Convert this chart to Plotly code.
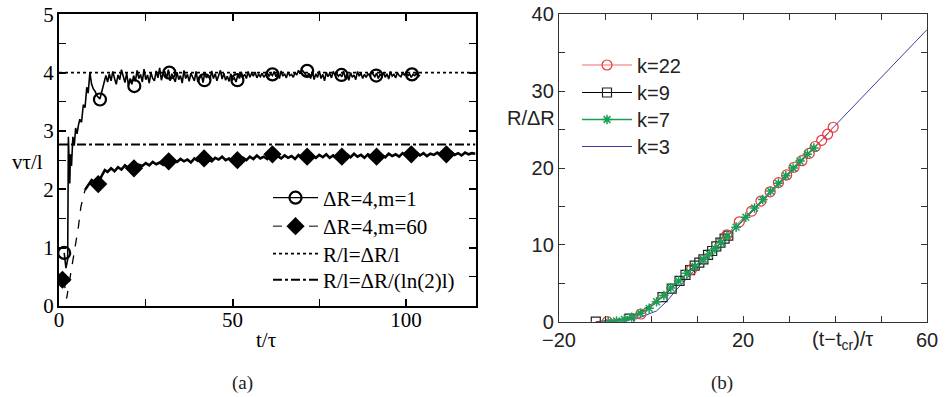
import numpy as np
import plotly.graph_objects as go

# ---------------- Panel (a) data ----------------
# m=1 curve: irregular early part, then half-unit samples
t1_early = [1.5, 2.0, 2.5, 2.7, 2.9, 3.1, 3.3, 3.6, 4.0, 4.4, 4.8, 5.2, 5.6, 6.0, 6.5, 7.0,
            7.5, 8.0, 8.4, 8.9, 9.4, 9.9, 10.4, 11.0, 11.8, 12.4, 13.0]
v1_early = [0.91, 0.65, 0.8, 2.9, 2.5, 2.1, 2.6, 2.4, 2.9, 2.75, 3.05, 2.95, 3.1, 3.2, 3.15, 3.45,
            3.4, 3.75, 3.65, 4.0, 3.8, 3.72, 3.68, 3.6, 3.55, 3.7, 3.82]
t1_late = list(np.round(np.arange(13.5, 104.01, 0.5), 1))
v1_late = [3.95, 3.84, 3.98, 3.86, 4.02, 3.9, 3.8, 3.96, 3.88, 4.05,
           3.92, 3.83, 3.99, 3.78, 3.9, 3.8, 3.95, 3.85, 4.04, 3.9,
           3.97, 3.84, 4.06, 3.88, 3.96, 3.82, 4.0, 3.9, 3.86, 4.03,
           3.91, 4.08, 3.87, 3.99, 4.02, 3.9, 4.05, 3.86, 3.98, 3.92,
           3.84, 4.01, 3.88, 3.95, 3.82, 4.04, 3.9, 3.97, 3.85, 3.99,
           3.93, 3.86, 4.02, 3.84, 3.9, 3.97, 3.83, 4.0, 3.91, 3.96,
           3.88, 4.03, 3.9, 3.98, 3.86, 3.95, 4.04, 3.89, 3.99, 3.87,
           3.94, 3.85, 3.98, 3.88, 3.91, 3.84, 3.96, 3.9, 4.01, 3.93,
           3.97, 3.9, 4.02, 3.92, 3.99, 3.94, 4.01, 3.91, 3.97, 3.93,
           3.99, 3.92, 3.96, 4.0, 3.94, 3.98, 3.95, 4.02, 3.93, 3.99,
           3.9, 4.03, 3.94, 3.98, 3.91, 4.01, 3.95, 3.97, 3.92, 4.0,
           3.96, 4.04, 3.98, 4.05, 4.01, 3.97, 3.93, 3.99, 3.9, 4.02,
           3.88, 3.98, 3.92, 4.03, 3.9, 3.97, 3.86, 4.01, 3.93, 3.99,
           3.91, 4.02, 3.96, 3.99, 3.94, 3.97, 3.93, 4.03, 3.9, 3.98,
           3.87, 4.0, 3.92, 3.96, 3.88, 4.02, 3.94, 3.99, 3.9, 3.97,
           3.92, 3.98, 3.95, 4.01, 3.96, 3.93, 3.99, 3.9, 3.97, 3.94,
           4.0, 3.92, 3.98, 3.89, 4.02, 3.94, 3.97, 3.91, 4.0, 3.95,
           3.93, 3.99, 3.96, 4.01, 3.94, 3.98, 3.92, 3.97, 3.95, 3.99,
           3.93, 3.96]
t1_marks = [1.5, 11.8, 21.7, 31.8, 41.9, 51.4, 61.5, 71.5, 81.4, 91.4, 101.7]
v1_marks = [0.91, 3.54, 3.77, 4.0, 3.87, 3.87, 3.97, 4.03, 3.96, 3.95, 3.97]

# m=60 curve
t2_early = [1.0, 1.5, 2.2, 2.7, 3.2, 3.8, 4.4, 5.0, 5.6, 6.3, 6.9, 7.5]
v2_early = [0.45, 0.4, 0.13, 0.3, 0.5, 0.7, 0.9, 1.12, 1.36, 1.7, 1.85, 1.99]
t2_mid = [7.5, 8.4, 9.4, 10.3, 11.3, 12.2, 13.2]
v2_mid = [1.99, 2.08, 2.16, 2.12, 2.09, 2.22, 2.33]
t2_late = list(range(14, 121))
v2_late = [2.30, 2.36, 2.31, 2.38, 2.34, 2.41, 2.36, 2.39, 2.35, 2.42,
           2.40, 2.45, 2.41, 2.47, 2.43, 2.46, 2.42, 2.49, 2.45, 2.5,
           2.47, 2.52, 2.48, 2.51, 2.46, 2.53, 2.49, 2.55, 2.5, 2.52,
           2.48, 2.54, 2.51, 2.56, 2.5, 2.53, 2.49, 2.55, 2.51, 2.54,
           2.5, 2.56, 2.52, 2.58, 2.53, 2.56, 2.52, 2.6, 2.55, 2.57,
           2.53, 2.58, 2.54, 2.57, 2.52, 2.59, 2.55, 2.57, 2.53, 2.58,
           2.54, 2.59, 2.55, 2.6, 2.54, 2.58, 2.53, 2.59, 2.56, 2.6,
           2.55, 2.61, 2.56, 2.59, 2.54, 2.6, 2.57, 2.62, 2.56, 2.59,
           2.55, 2.61, 2.57, 2.6, 2.56, 2.62, 2.58, 2.61, 2.57, 2.63,
           2.58, 2.62, 2.57, 2.61, 2.59, 2.63, 2.58, 2.62, 2.6, 2.64,
           2.59, 2.62, 2.58, 2.63, 2.6, 2.62, 2.61]
t2_marks = [1.0, 11.3, 21.6, 31.6, 41.8, 51.4, 61.5, 71.5, 81.5, 91.5, 101.5, 111.6]
v2_marks = [0.45, 2.09, 2.36, 2.48, 2.53, 2.5, 2.6, 2.56, 2.56, 2.56, 2.6, 2.6]

ref_x = [0, 120]
level_dotted = 4.0
level_dashdot = 2.77

legend_a_names = ["ΔR=4,m=1", "ΔR=4,m=60", "R/l=ΔR/l", "R/l=ΔR/(ln(2)l)"]

# ---------------- Panel (b) data ----------------
k22_x = [-9.5, -2.2, 8.8, 16.5, 19.2, 21.9, 23.9, 25.9, 27.7, 29.5, 31.1, 32.8, 34.4, 35.7, 37.1, 38.4, 39.6]
k22_y = [0.0, 1.0, 6.8, 11.3, 13.0, 14.4, 15.7, 16.9, 18.1, 19.1, 20.1, 20.95, 21.9, 22.8, 23.6, 24.4, 25.3]

k9_x = [-12.0, -4.7, 2.5, 4.5, 6.2, 7.5, 8.5, 9.5, 10.5, 11.4, 12.4, 13.3, 14.2, 15.1, 16.0, 16.8]
k9_y = [0.0, 0.4, 3.2, 4.3, 5.3, 6.1, 6.7, 7.3, 7.7, 8.1, 8.7, 9.2, 9.8, 10.3, 10.8, 11.2]

k7_x = [-9.3, -7.5, -5.8, -4.2, -2.3, -0.4, 1.2, 2.8, 4.3, 6.0, 7.8, 9.6, 11.4, 12.7, 13.9, 15.2,
        16.5, 18.5, 20.6, 22.5, 24.3, 26.0, 27.7, 29.3, 30.9, 32.4, 34.0, 35.4]
k7_y = [0.0, 0.1, 0.3, 0.57, 1.1, 1.74, 2.6, 3.4, 4.4, 5.3, 6.3, 7.2, 8.1, 8.8, 9.5, 10.3,
        11.1, 12.3, 13.6, 14.8, 15.9, 17.0, 18.0, 19.0, 20.0, 20.9, 21.8, 22.6]

k3_x = [-9.5, -6, -3, -1, 1.2, 3.5, 5.6, 8.5, 12, 17.2, 22, 27, 32, 39.5, 45, 50, 55, 60]
k3_y = [0.0, 0.1, 0.4, 0.85, 1.4, 2.7, 4.2, 6.1, 8.3, 11.5, 14.3, 17.3, 20.4, 25.2, 28.6, 31.7, 34.8, 38.0]

legend_b_names = ["k=22", "k=9", "k=7", "k=3"]

SERIF = "Liberation Serif"
SANS = "Liberation Sans"

# legend slot ids and the pixel row centre of each entry
LEG_A = ["legend", "legend2", "legend3", "legend4"]
LEG_A_ROWS = [198, 226.5, 254, 280]
LEG_B = ["legend5", "legend6", "legend7", "legend8"]
LEG_B_ROWS = [65, 92.5, 119.5, 146.5]

fig = go.Figure()

# ---- panel (a) traces
black = "black"
fig.add_trace(go.Scatter(x=t1_early + t1_late, y=v1_early + v1_late, mode="lines",
                         line=dict(color=black, width=1.6), showlegend=False, xaxis="x", yaxis="y"))
fig.add_trace(go.Scatter(x=t1_marks, y=v1_marks, mode="markers",
                         marker=dict(symbol="circle-open", size=12, color=black, line=dict(width=2.2)),
                         showlegend=False, xaxis="x", yaxis="y"))
fig.add_trace(go.Scatter(x=t2_early, y=v2_early, mode="lines",
                         line=dict(color=black, width=1.3, dash="dash"), showlegend=False, xaxis="x", yaxis="y"))
fig.add_trace(go.Scatter(x=t2_mid + t2_late, y=v2_mid + v2_late, mode="lines",
                         line=dict(color=black, width=2.6), showlegend=False, xaxis="x", yaxis="y"))
fig.add_trace(go.Scatter(x=t2_marks, y=v2_marks, mode="markers",
                         marker=dict(symbol="diamond", size=14, color=black),
                         showlegend=False, xaxis="x", yaxis="y"))
fig.add_trace(go.Scatter(x=ref_x, y=[level_dotted] * 2, mode="lines",
                         line=dict(color=black, width=1.6, dash="dot"), showlegend=False, xaxis="x", yaxis="y"))
fig.add_trace(go.Scatter(x=ref_x, y=[level_dashdot] * 2, mode="lines",
                         line=dict(color=black, width=2, dash="dashdot"), showlegend=False, xaxis="x", yaxis="y"))

# legend entries (a)
leg_a_styles = [
    dict(mode="lines+markers", line=dict(color=black, width=1.2),
         marker=dict(symbol="circle-open", size=12, color=black, line=dict(width=2.2))),
    dict(mode="lines+markers", line=dict(color=black, width=1, dash="dash"),
         marker=dict(symbol="diamond", size=14, color=black)),
    dict(mode="lines", line=dict(color=black, width=1.6, dash="dot")),
    dict(mode="lines", line=dict(color=black, width=2, dash="dashdot")),
]
for name, st, lg in zip(legend_a_names, leg_a_styles, LEG_A):
    fig.add_trace(go.Scatter(x=[None], y=[None], name=name, legend=lg, xaxis="x", yaxis="y", **st))

# ---- panel (b) traces
red = "#e8363c"
green = "#1a9e55"
fig.add_trace(go.Scatter(x=k3_x, y=k3_y, mode="lines", name=legend_b_names[3],
                         line=dict(color="#3d3d9e", width=1), legend=LEG_B[3],
                         xaxis="x2", yaxis="y2"))
fig.add_trace(go.Scatter(x=k9_x, y=k9_y, mode="lines+markers", name=legend_b_names[1],
                         line=dict(color="black", width=1),
                         marker=dict(symbol="square-open", size=9, color="#222", line=dict(width=1.2)),
                         legend=LEG_B[1], xaxis="x2", yaxis="y2"))
fig.add_trace(go.Scatter(x=k22_x, y=k22_y, mode="lines+markers", name=legend_b_names[0],
                         line=dict(color="#f06a6a", width=1),
                         marker=dict(symbol="circle-open", size=10, color=red, line=dict(width=1.2)),
                         legend=LEG_B[0], xaxis="x2", yaxis="y2"))
fig.add_trace(go.Scatter(x=k7_x, y=k7_y, mode="lines+markers", name=legend_b_names[2],
                         line=dict(color=green, width=1.3),
                         marker=dict(symbol="asterisk-open", size=8, color=green, line=dict(width=1.5)),
                         legend=LEG_B[2], xaxis="x2", yaxis="y2"))

axis_a = dict(showline=True, linecolor="black", linewidth=2, mirror="ticks", ticks="inside",
              ticklen=7, tickwidth=1.5, tickcolor="black", showgrid=False, zeroline=False,
              automargin=False, tickfont=dict(family=SERIF, size=21, color="black"))
axis_b = dict(showline=True, linecolor="#333", linewidth=1.3, mirror="ticks", ticks="inside",
              ticklen=6, tickwidth=1.2, tickcolor="#333", showgrid=False, zeroline=False,
              automargin=False, tickfont=dict(family=SANS, size=20, color="#222"))

layout_legends = {}
for lg, row in zip(LEG_A, LEG_A_ROWS):
    layout_legends[lg] = dict(x=268 / 945, y=1 - row / 397, xanchor="left", yanchor="middle",
                              bgcolor="rgba(0,0,0,0)", font=dict(family=SERIF, size=21, color="black"),
                              itemwidth=45)
for lg, row in zip(LEG_B, LEG_B_ROWS):
    layout_legends[lg] = dict(x=577 / 945, y=1 - row / 397, xanchor="left", yanchor="middle",
                              bgcolor="rgba(0,0,0,0)", font=dict(family=SANS, size=20, color="#222"),
                              itemwidth=50)


def ann(text, x, y, family, size, color="black"):
    return dict(text=text, x=x / 945, y=1 - y / 397, xref="paper", yref="paper", showarrow=False,
                xanchor="center", yanchor="middle", font=dict(family=family, size=size, color=color))


fig.update_layout(
    width=945, height=397, margin=dict(l=0, r=0, t=0, b=0, autoexpand=False),
    paper_bgcolor="white", plot_bgcolor="white",
    xaxis=dict(axis_a, domain=[59 / 945, 475.5 / 945], range=[0, 120], tick0=0, dtick=50,
               minor=dict(ticks="inside", dtick=25, tick0=0, ticklen=7, tickwidth=1.2, tickcolor="black"),
               anchor="y", ticklabelstandoff=-6),
    yaxis=dict(axis_a, domain=[1 - 306 / 397, 1 - 14.3 / 397], range=[0, 5], tick0=0, dtick=1,
               minor=dict(ticks="inside", dtick=0.5, tick0=0, ticklen=7, tickwidth=1.2, tickcolor="black"),
               anchor="x", ticklabelstandoff=-1),
    xaxis2=dict(axis_b, domain=[559 / 945, 927 / 945], range=[-20, 60], tick0=-20, dtick=40,
                minor=dict(ticks="inside", dtick=10, tick0=0, ticklen=6, tickwidth=1.2, tickcolor="#333"),
                anchor="y2"),
    yaxis2=dict(axis_b, domain=[1 - 321.7 / 397, 1 - 14.3 / 397], range=[0, 40], tick0=0, dtick=10,
                minor=dict(ticks="inside", dtick=5, tick0=0, ticklen=6, tickwidth=1.2, tickcolor="#333"),
                anchor="x2"),
    annotations=[
        ann("vτ/l", 27, 162, SERIF, 21),
        ann("t/τ", 266, 340, SERIF, 21),
        ann("(a)", 242, 383, SERIF, 19, "#222"),
        ann("R/ΔR", 531, 118, SANS, 20, "#222"),
        ann("(t−t<sub>cr</sub>)/τ", 842, 340, SANS, 20, "#222"),
        ann("(b)", 722, 383, SERIF, 19, "#222"),
    ],
    **layout_legends,
)

fig.write_html("out.html")
